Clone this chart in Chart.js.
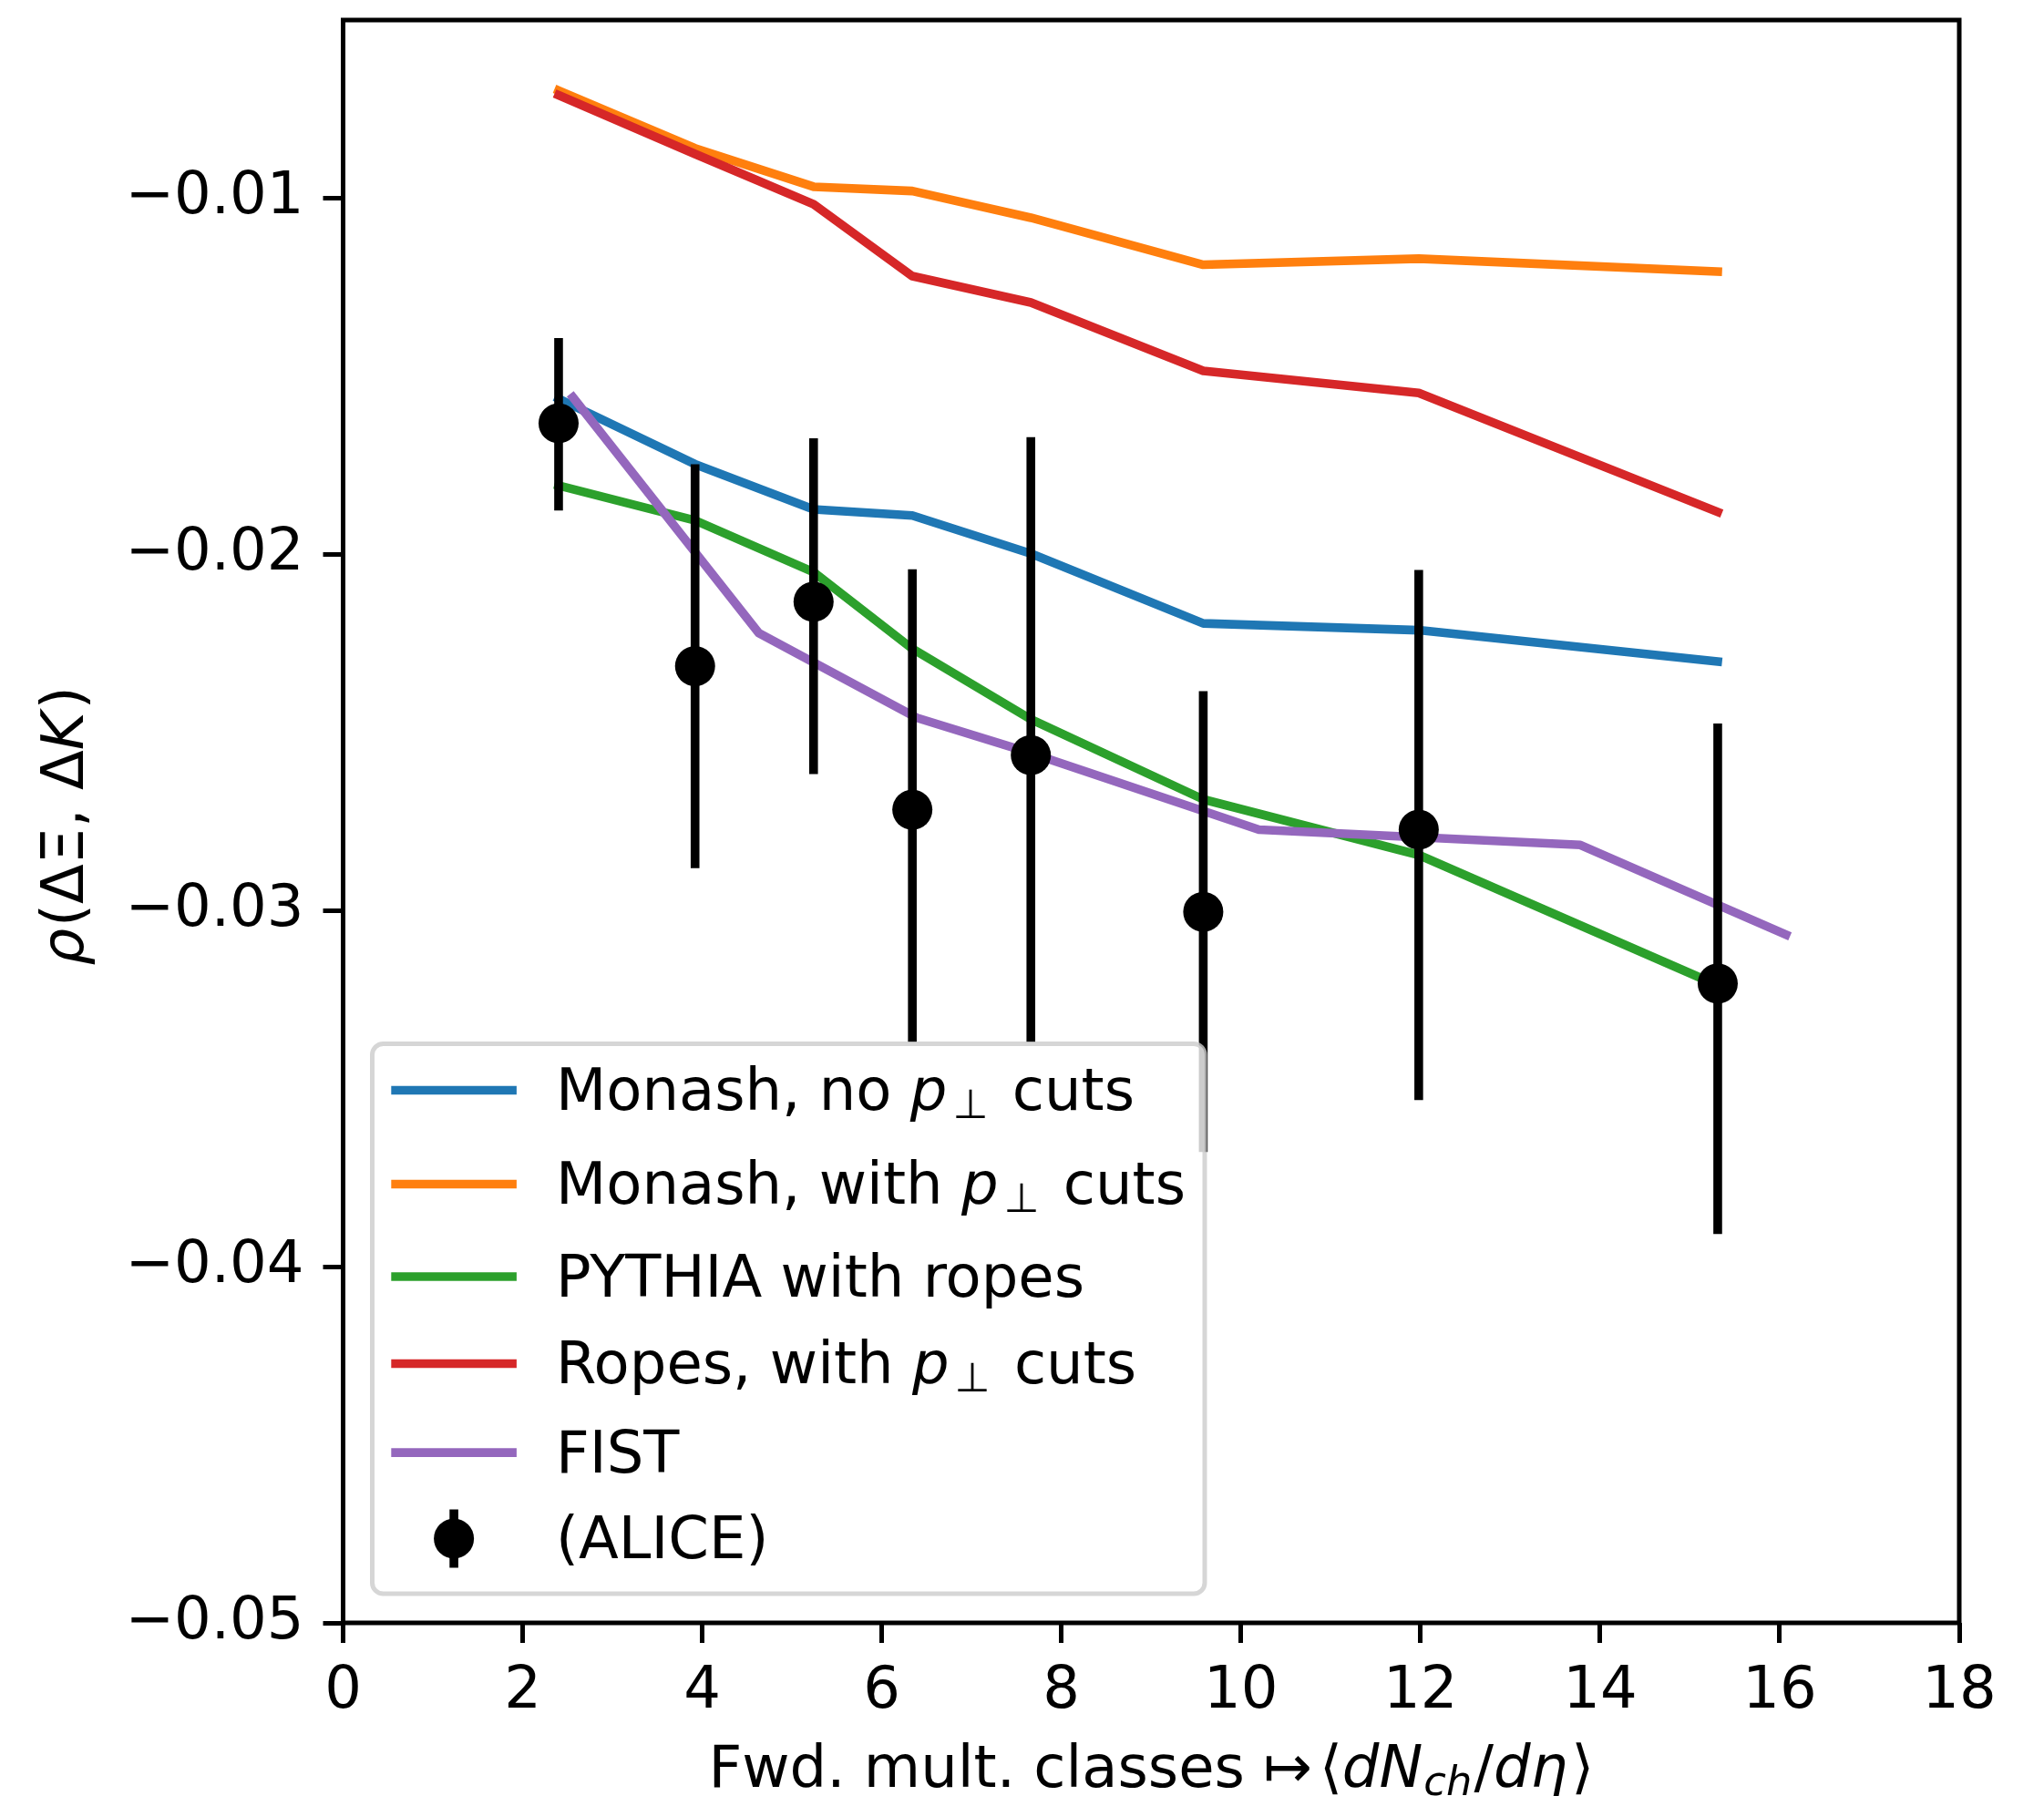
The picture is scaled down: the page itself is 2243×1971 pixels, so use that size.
<!DOCTYPE html>
<html>
<head>
<meta charset="utf-8">
<style>
  html, body { margin: 0; padding: 0; background: #ffffff; }
  canvas { display: block; }
</style>
<script src="https://cdn.jsdelivr.net/npm/chart.js@4.4.1/dist/chart.umd.min.js"></script>
</head>
<body>
<canvas id="chart" width="2243" height="1971"></canvas>
<script>
// Multiplicity classes <dN_ch/deta> shared by the ALICE points and the PYTHIA curves
const X_CLASSES = [2.40, 3.92, 5.24, 6.34, 7.66, 9.58, 11.98, 15.31];

// Model curves rho(dXi, dK)
const MONASH_NO_CUTS = [-0.01563, -0.01747, -0.01874, -0.01891, -0.01998, -0.02194, -0.02213, -0.02301];
const MONASH_PT_CUTS = [-0.00698, -0.00860, -0.00968, -0.00980, -0.01055, -0.01187, -0.01170, -0.01206];
const PYTHIA_ROPES   = [-0.01807, -0.01905, -0.02050, -0.02265, -0.02463, -0.02688, -0.02844, -0.03210];
const ROPES_PT_CUTS  = [-0.00711, -0.00876, -0.01017, -0.01219, -0.01293, -0.01485, -0.01547, -0.01881];

// FIST curve has its own multiplicity values
const FIST_X = [2.56, 4.63, 6.39, 7.66, 10.20, 13.78, 16.07];
const FIST_Y = [-0.01559, -0.02221, -0.02459, -0.02558, -0.02773, -0.02816, -0.03068];

// ALICE measurement: central value and the upper / lower ends of the error bar
const ALICE_Y    = [-0.01632, -0.02314, -0.02133, -0.02717, -0.02564, -0.03004, -0.02773, -0.03205];
const ALICE_HIGH = [-0.01393, -0.01747, -0.01674, -0.02042, -0.01671, -0.02384, -0.02044, -0.02475];
const ALICE_LOW  = [-0.01877, -0.02881, -0.02617, -0.03370, -0.03370, -0.03678, -0.03532, -0.03908];

// Axis ticks
const X_TICKS = [0, 2, 4, 6, 8, 10, 12, 14, 16, 18];
const Y_TICKS = [-0.05, -0.04, -0.03, -0.02, -0.01];

// Series names, split into pieces (it = italic, sub = subscript)
const LABEL_MONASH_NO = [{ t: 'Monash, no ' }, { t: 'p', it: true }, { t: '\u22A5', sub: true, pre: 6 }, { t: ' cuts', pre: 6 }];
const LABEL_MONASH_PT = [{ t: 'Monash, with ' }, { t: 'p', it: true }, { t: '\u22A5', sub: true, pre: 6 }, { t: ' cuts', pre: 6 }];
const LABEL_PYTHIA    = [{ t: 'PYTHIA with ropes' }];
const LABEL_ROPES_PT  = [{ t: 'Ropes, with ' }, { t: 'p', it: true }, { t: '\u22A5', sub: true, pre: 6 }, { t: ' cuts', pre: 6 }];
const LABEL_FIST      = [{ t: 'FIST' }];
const LABEL_ALICE     = [{ t: '(ALICE)' }];

const X_TITLE = [
  { t: 'Fwd. mult. classes ' }, { t: '\u21A6' }, { t: '\u27E8', pre: 8 },
  { t: 'dN', it: true }, { t: 'ch', it: true, sub: true, pre: 1 },
  { t: '/', pre: 2 }, { t: 'd\u03B7', it: true }, { t: '\u27E9', pre: 4 }
];
const Y_TITLE = [
  { t: '\u03C1', it: true }, { t: '(\u0394\u039E, \u0394', pre: 2 }, { t: 'K', it: true }, { t: ')', pre: 3 }
];

const COLORS = {
  blue: '#1f77b4', orange: '#ff7f0e', green: '#2ca02c', red: '#d62728', purple: '#9467bd', black: '#000000'
};

const FONT_FAMILY = '"DejaVu Sans"';
const FONT_SIZE = 64;
const SUB_SIZE = 44.8;
const LINE_W = 9.6;
const SPINE_W = 5;

const toPoints = (xs, ys) => xs.map((x, i) => ({ x: x, y: ys[i] }));

function fontStr(size, italic) {
  return (italic ? 'italic ' : '') + size + 'px ' + FONT_FAMILY;
}

// lays out a list of text pieces on one baseline, returns total width
function layoutRich(ctx, pieces) {
  let w = 0;
  for (const p of pieces) {
    p.size = p.sub ? SUB_SIZE : FONT_SIZE;
    ctx.font = fontStr(p.size, p.it);
    p.w = ctx.measureText(p.t).width;
    p.x = w + (p.pre || 0);
    p.dy = p.sub ? 9 : 0;
    w = p.x + p.w;
  }
  return w;
}

function drawRich(ctx, pieces, x, y) {
  layoutRich(ctx, pieces);
  ctx.textBaseline = 'alphabetic';
  ctx.textAlign = 'left';
  for (const p of pieces) {
    ctx.font = fontStr(p.size, p.it);
    ctx.fillText(p.t, x + p.x, y + p.dy);
  }
}

const ALICE_INDEX = 5;

// vertical error bars of the ALICE points, drawn just beneath their markers
const errorBarPlugin = {
  id: 'errorBars',
  beforeDatasetDraw(chart, args) {
    if (args.index !== ALICE_INDEX) return;
    const { ctx, scales: { x, y } } = chart;
    ctx.save();
    ctx.strokeStyle = COLORS.black;
    ctx.lineWidth = LINE_W;
    ctx.lineCap = 'butt';
    for (let i = 0; i < X_CLASSES.length; i++) {
      const px = x.getPixelForValue(X_CLASSES[i]);
      ctx.beginPath();
      ctx.moveTo(px, y.getPixelForValue(ALICE_HIGH[i]));
      ctx.lineTo(px, y.getPixelForValue(ALICE_LOW[i]));
      ctx.stroke();
    }
    ctx.restore();
  }
};

// axes frame, axis titles and the legend box
const decorPlugin = {
  id: 'decor',
  afterDatasetsDraw(chart) {
    const { ctx, chartArea: a } = chart;
    ctx.save();
    ctx.strokeStyle = COLORS.black;
    ctx.lineWidth = SPINE_W;
    ctx.lineJoin = 'miter';
    ctx.strokeRect(a.left, a.top, a.right - a.left, a.bottom - a.top);
    ctx.restore();
  },
  afterDraw(chart) {
    const { ctx, chartArea: a } = chart;
    ctx.save();
    ctx.fillStyle = COLORS.black;

    // x title
    const wx = layoutRich(ctx, X_TITLE);
    drawRich(ctx, X_TITLE, (a.left + a.right) / 2 - wx / 2, 1961);

    // y title, rotated
    const wy = layoutRich(ctx, Y_TITLE);
    ctx.save();
    ctx.translate(91, (a.top + a.bottom) / 2 + 5);
    ctx.rotate(-Math.PI / 2);
    drawRich(ctx, Y_TITLE, -wy / 2, 0);
    ctx.restore();

    // legend
    const pad = 32;
    const boxW = 913.5, boxH = 603.5;
    const bx = a.left + pad, by = a.bottom - pad - boxH;
    ctx.beginPath();
    ctx.roundRect(bx, by, boxW, boxH, 12);
    ctx.fillStyle = 'rgba(255,255,255,0.8)';
    ctx.fill();
    ctx.lineWidth = 5;
    ctx.strokeStyle = 'rgba(204,204,204,0.8)';
    ctx.stroke();

    const rows = [
      { label: LABEL_MONASH_NO, color: COLORS.blue, dy: 51 },
      { label: LABEL_MONASH_PT, color: COLORS.orange, dy: 154 },
      { label: LABEL_PYTHIA, color: COLORS.green, dy: 255.5 },
      { label: LABEL_ROPES_PT, color: COLORS.red, dy: 351 },
      { label: LABEL_FIST, color: COLORS.purple, dy: 448.6 },
      { label: LABEL_ALICE, color: COLORS.black, dy: 543, marker: true }
    ];
    const hx0 = bx + 25.6, hx1 = bx + 153.6, tx = bx + 201.5;
    for (const r of rows) {
      const cy = by + r.dy;
      if (r.marker) {
        const mx = (hx0 + hx1) / 2;
        ctx.strokeStyle = r.color;
        ctx.lineWidth = LINE_W;
        ctx.lineCap = 'butt';
        ctx.beginPath();
        ctx.moveTo(mx, cy - 32);
        ctx.lineTo(mx, cy + 32);
        ctx.stroke();
        ctx.beginPath();
        ctx.arc(mx, cy, 22, 0, Math.PI * 2);
        ctx.fillStyle = r.color;
        ctx.fill();
      } else {
        ctx.strokeStyle = r.color;
        ctx.lineWidth = LINE_W;
        ctx.lineCap = 'square';
        ctx.beginPath();
        ctx.moveTo(hx0, cy);
        ctx.lineTo(hx1, cy);
        ctx.stroke();
      }
      ctx.fillStyle = COLORS.black;
      drawRich(ctx, r.label, tx, cy + 21.5);
    }
    ctx.restore();
  }
};

const lineDataset = (xs, ys, color, order) => ({
  type: 'line',
  data: toPoints(xs, ys),
  borderColor: color,
  backgroundColor: color,
  borderWidth: LINE_W,
  borderCapStyle: 'square',
  borderJoinStyle: 'round',
  pointRadius: 0,
  pointHoverRadius: 0,
  tension: 0,
  fill: false,
  order: order
});

const tickFont = { family: FONT_FAMILY, size: FONT_SIZE };

new Chart(document.getElementById('chart'), {
  type: 'line',
  data: {
    datasets: [
      lineDataset(X_CLASSES, MONASH_NO_CUTS, COLORS.blue, 5),
      lineDataset(X_CLASSES, MONASH_PT_CUTS, COLORS.orange, 4),
      lineDataset(X_CLASSES, PYTHIA_ROPES, COLORS.green, 3),
      lineDataset(X_CLASSES, ROPES_PT_CUTS, COLORS.red, 2),
      lineDataset(FIST_X, FIST_Y, COLORS.purple, 1),
      {
        type: 'scatter',
        data: toPoints(X_CLASSES, ALICE_Y),
        showLine: false,
        pointRadius: 22,
        pointHoverRadius: 22,
        pointBorderWidth: 0,
        pointBackgroundColor: COLORS.black,
        pointBorderColor: COLORS.black,
        order: 0
      }
    ]
  },
  options: {
    responsive: false,
    animation: false,
    devicePixelRatio: 1,
    events: [],
    layout: { padding: { left: 0, top: 17.5, right: 93, bottom: 0 } },
    plugins: { legend: { display: false }, tooltip: { enabled: false }, title: { display: false } },
    scales: {
      x: {
        type: 'linear',
        position: 'bottom',
        min: 0,
        max: 18,
        bounds: 'data',
        afterBuildTicks: s => { s.ticks = X_TICKS.map(v => ({ value: v })); },
        afterFit: s => { s.height = 190; s.paddingLeft = 0; s.paddingRight = 0; },
        ticks: {
          font: tickFont, color: COLORS.black, padding: 16, autoSkip: false,
          maxRotation: 0, minRotation: 0,
          callback: v => String(v)
        },
        grid: { drawOnChartArea: false, drawTicks: true, tickLength: 22, tickWidth: SPINE_W, tickColor: COLORS.black },
        border: { display: false }
      },
      y: {
        type: 'linear',
        position: 'left',
        min: -0.05,
        max: -0.005,
        bounds: 'data',
        afterBuildTicks: s => { s.ticks = Y_TICKS.map(v => ({ value: v })); },
        afterFit: s => { s.width = 376.5; s.paddingTop = 0; s.paddingBottom = 0; },
        ticks: {
          font: tickFont, color: COLORS.black, padding: 21, autoSkip: false,
          callback: v => '\u2212' + Math.abs(v).toFixed(2)
        },
        grid: { drawOnChartArea: false, drawTicks: true, tickLength: 22, tickWidth: SPINE_W, tickColor: COLORS.black },
        border: { display: false }
      }
    }
  },
  plugins: [errorBarPlugin, decorPlugin]
});
</script>
</body>
</html>
